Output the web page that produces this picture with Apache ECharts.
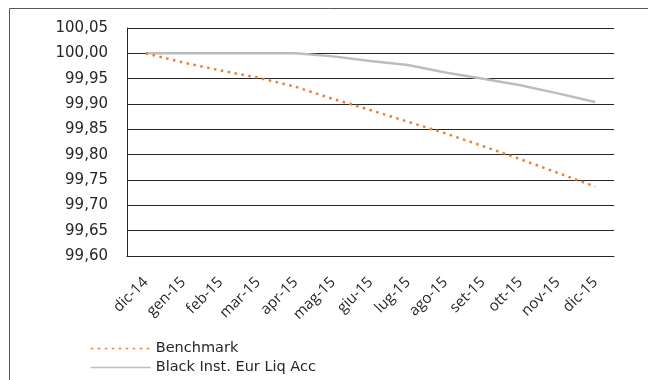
<!DOCTYPE html>
<html>
<head>
<meta charset="utf-8">
<script src="https://cdn.jsdelivr.net/npm/echarts@6/dist/echarts.min.js"></script>
<style>
  html, body { margin: 0; padding: 0; background: #fff; }
  #chart { width: 648px; height: 380px; }
</style>
</head>
<body>
<div id="chart"></div>
<script>
// months on the x axis
var months = ['dic-14', 'gen-15', 'feb-15', 'mar-15', 'apr-15', 'mag-15', 'giu-15',
              'lug-15', 'ago-15', 'set-15', 'ott-15', 'nov-15', 'dic-15'];

// values
var benchmark = [100.000, 99.982, 99.966, 99.952, 99.934, 99.910, 99.888,
                 99.865, 99.842, 99.817, 99.791, 99.764, 99.737];
var blackInst = [100.000, 100.000, 100.000, 100.000, 100.000, 99.994, 99.985,
                 99.977, 99.962, 99.950, 99.937, 99.921, 99.904];

var seriesNames = ['Benchmark', 'Black Inst. Eur Liq Acc'];

var chart = echarts.init(document.getElementById('chart'));

var option = {
  animation: false,
  graphic: [{
    type: 'rect',
    shape: { x: 9.5, y: 8.5, width: 700, height: 400 },
    style: { fill: 'none', stroke: '#595959', lineWidth: 1 },
    silent: true
  }],
  grid: { left: 127, top: 28, right: 34, bottom: 124 },
  legend: {
    orient: 'vertical',
    left: 90,
    top: 341,
    padding: 0,
    itemWidth: 60,
    itemHeight: 14,
    itemGap: 4,
    textStyle: { fontFamily: 'DejaVu Sans', fontSize: 14.5, color: '#262626' },
    data: [
      { name: seriesNames[0], itemStyle: { opacity: 0 }, lineStyle: { width: 1.5 } },
      { name: seriesNames[1], itemStyle: { opacity: 0 }, lineStyle: { width: 1.5 } }
    ]
  },
  xAxis: {
    type: 'category',
    data: months,
    boundaryGap: true,
    axisLine: { show: true, lineStyle: { color: '#262626', width: 1 } },
    axisTick: { show: false },
    axisLabel: {
      rotate: 45,
      margin: 24,
      interval: 0,
      fontFamily: 'Open Sans',
      fontSize: 15,
      color: '#262626'
    }
  },
  yAxis: {
    type: 'value',
    min: 99.6,
    max: 100.05,
    interval: 0.05,
    axisLine: { show: true, lineStyle: { color: '#262626', width: 1 } },
    axisTick: { show: false },
    splitLine: { lineStyle: { color: '#262626', width: 1 } },
    axisLabel: {
      margin: 19,
      fontFamily: 'DejaVu Sans',
      fontSize: 15,
      color: '#262626',
      formatter: function (v) { return v.toFixed(2).replace('.', ','); }
    }
  },
  series: [
    {
      name: seriesNames[0],
      type: 'line',
      data: benchmark,
      symbol: 'none',
      z: 3,
      lineStyle: { color: '#ED7D31', width: 2.5, type: [2.5, 4.5] },
      itemStyle: { color: '#ED7D31' }
    },
    {
      name: seriesNames[1],
      type: 'line',
      data: blackInst,
      symbol: 'none',
      z: 2,
      lineStyle: { color: '#BDBDBD', width: 2.5 },
      itemStyle: { color: '#BDBDBD' }
    }
  ]
};

chart.setOption(option);
</script>
</body>
</html>
